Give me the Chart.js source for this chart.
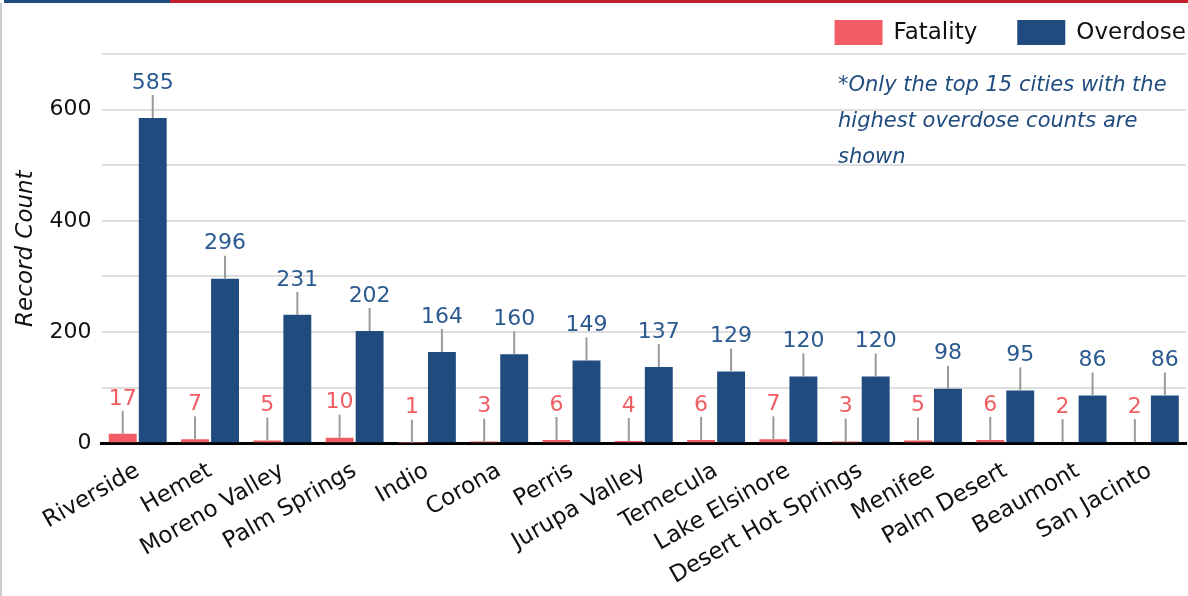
<!DOCTYPE html>
<html>
<head>
<meta charset="utf-8">
<script src="https://cdn.jsdelivr.net/npm/chart.js@4.4.1/dist/chart.umd.min.js"></script>
<style>
  html, body { margin: 0; padding: 0; background: #fff; }
  .wrap { position: relative; width: 1188px; height: 596px; overflow: hidden; }
  .edge { position: absolute; left: 0; top: 3px; width: 2px; height: 593px; background: #c9ced3; }
  .bar-blue { position: absolute; left: 4px; top: 0; width: 166px; height: 3px; background: #1f4b7e; }
  .bar-red { position: absolute; left: 170px; top: 0; width: 1018px; height: 3px; background: #c0202a; }
  canvas { position: absolute; left: 0; top: 0; }
</style>
</head>
<body>
<div class="wrap">
  <canvas id="chart" width="1188" height="596"></canvas>
  <div class="edge"></div>
  <div class="bar-blue"></div>
  <div class="bar-red"></div>
</div>
<script>
// Data
const cities = ['Riverside', 'Hemet', 'Moreno Valley', 'Palm Springs', 'Indio', 'Corona', 'Perris',
    'Jurupa Valley', 'Temecula', 'Lake Elsinore', 'Desert Hot Springs', 'Menifee', 'Palm Desert',
    'Beaumont', 'San Jacinto'];
const fatality = [17, 7, 5, 10, 1, 3, 6, 4, 6, 7, 3, 5, 6, 2, 2];
const overdose = [585, 296, 231, 202, 164, 160, 149, 137, 129, 120, 120, 98, 95, 86, 86];
const noteLines = ['*Only the top 15 cities with the', 'highest overdose counts are', 'shown'];

const FONT = "'DejaVu Sans', sans-serif";
const RED = '#f25c64';
const BLUE = '#1f4b7e';

// value labels with a short leader line above each bar
const barLabels = {
    id: 'barLabels',
    afterDatasetsDraw(chart) {
        const ctx = chart.ctx;
        ctx.save();
        chart.data.datasets.forEach((ds, i) => {
            const meta = chart.getDatasetMeta(i);
            meta.data.forEach((bar, j) => {
                ctx.strokeStyle = '#9a9a9a';
                ctx.lineWidth = 2;
                ctx.beginPath();
                ctx.moveTo(bar.x, bar.y);
                ctx.lineTo(bar.x, bar.y - 23);
                ctx.stroke();
                ctx.fillStyle = i === 0 ? RED : '#2a5a90';
                ctx.font = `22px ${FONT}`;
                ctx.textAlign = 'center';
                ctx.textBaseline = 'middle';
                ctx.fillText(ds.data[j], bar.x, bar.y - 35);
            });
        });
        ctx.restore();
    }
};

// legend (right aligned to the canvas edge) and side note
const legendNote = {
    id: 'legendNote',
    afterDraw(chart) {
        const ctx = chart.ctx;
        ctx.save();
        ctx.font = `23px ${FONT}`;
        ctx.textBaseline = 'middle';
        ctx.textAlign = 'left';
        let x = 1186;
        const items = chart.data.datasets.slice().reverse();
        items.forEach(ds => {
            const w = ctx.measureText(ds.label).width;
            x -= w;
            ctx.fillStyle = '#111';
            ctx.fillText(ds.label, x, 33);
            x -= 11 + 48;
            ctx.fillStyle = ds.backgroundColor;
            ctx.fillRect(x, 20, 48, 25);
            x -= 40;
        });

        ctx.fillStyle = BLUE;
        ctx.font = `italic 21px ${FONT}`;
        noteLines.forEach((t, k) => ctx.fillText(t, 838, 86 + k * 36));
        ctx.restore();
    }
};

new Chart(document.getElementById('chart'), {
    type: 'bar',
    data: {
        labels: cities,
        datasets: [
            { label: 'Fatality', data: fatality, backgroundColor: RED },
            { label: 'Overdose', data: overdose, backgroundColor: BLUE }
        ]
    },
    options: {
        responsive: false,
        animation: false,
        datasets: { bar: { categoryPercentage: 0.83, barPercentage: 0.93 } },
        layout: { padding: { left: 12, right: 2, top: 54, bottom: 0 } },
        scales: {
            x: {
                grid: { display: false },
                border: { color: '#000', width: 3 },
                ticks: {
                    color: '#111',
                    font: { family: FONT, size: 23 },
                    minRotation: 30,
                    maxRotation: 30,
                    padding: 6,
                    autoSkip: false
                }
            },
            y: {
                min: 0,
                max: 700,
                border: { display: false },
                grid: { color: '#dddddd', lineWidth: 2, drawTicks: false },
                ticks: {
                    stepSize: 100,
                    color: '#111',
                    padding: 10,
                    font: { family: FONT, size: 22 },
                    callback: v => (v % 200 === 0 ? v : '')
                },
                title: {
                    display: true,
                    text: 'Record Count',
                    color: '#111',
                    font: { family: FONT, size: 23, style: 'italic' },
                    padding: { top: 0, bottom: 0 }
                }
            }
        },
        plugins: {
            legend: { display: false },
            tooltip: { enabled: false }
        }
    },
    plugins: [barLabels, legendNote]
});
</script>
</body>
</html>
